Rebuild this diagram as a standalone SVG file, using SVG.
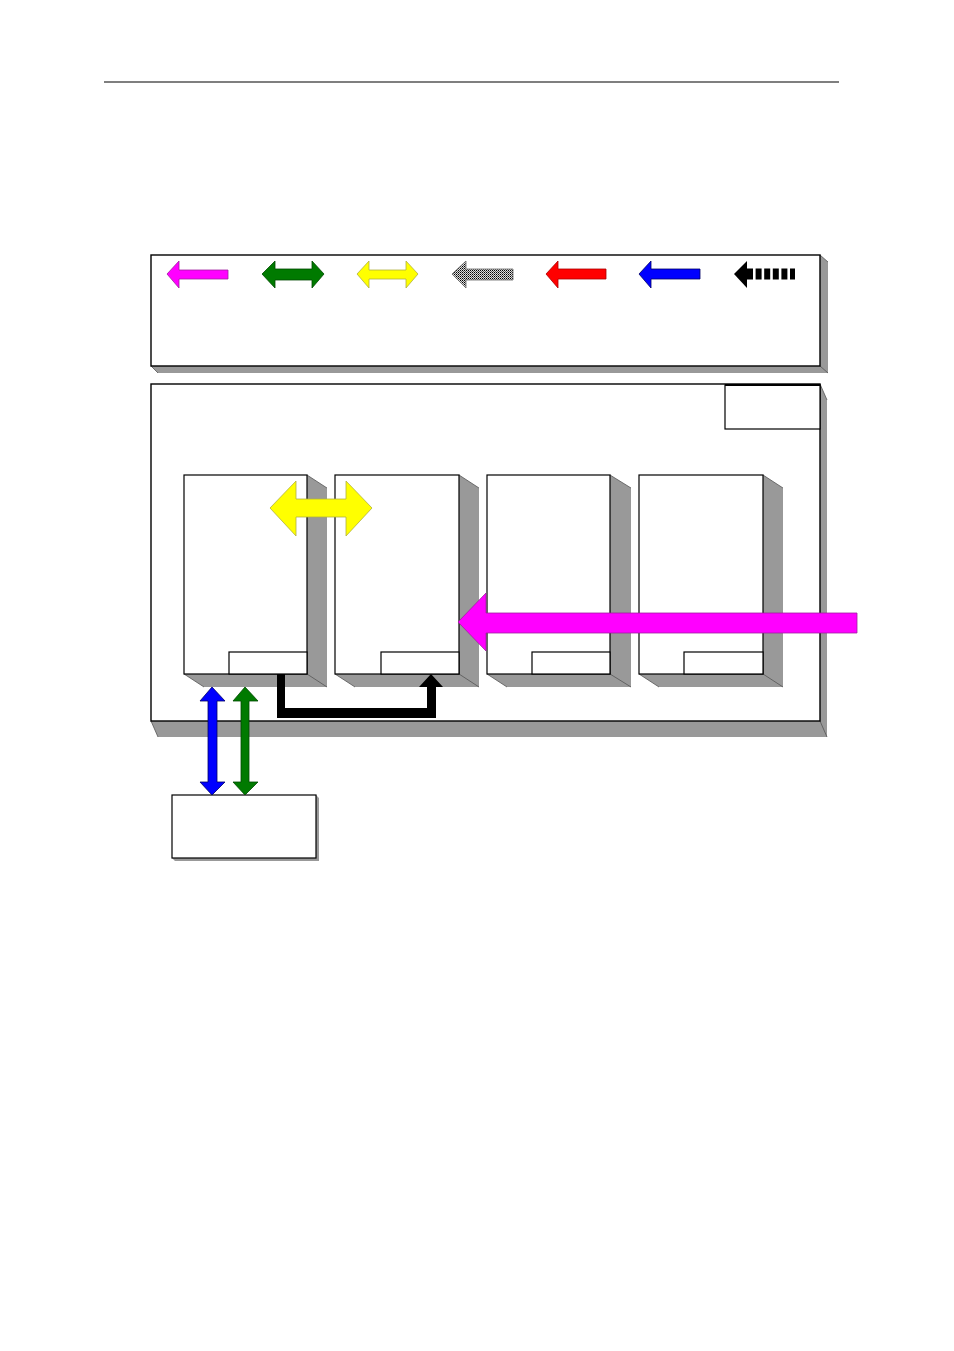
<svg xmlns="http://www.w3.org/2000/svg" width="954" height="1351" viewBox="0 0 954 1351">
<style>
.box{fill:#fff;stroke:#000;stroke-width:1.4}
.thin{fill:#fff;stroke:#000;stroke-width:1.2}
.shade{fill:#999;stroke:none}
.edge{stroke:#555;stroke-width:0.8;fill:none}
.mag{fill:#f0f;stroke:#a020a0;stroke-width:0.8}
.grn{fill:#007a00;stroke:#004a00;stroke-width:0.8}
.yel{fill:#ff0;stroke:#b0b040;stroke-width:0.8}
.red{fill:#f00;stroke:#a00;stroke-width:0.8}
.blu{fill:#00f;stroke:#006;stroke-width:0.8}
.blk{fill:#000;stroke:none}
</style>
<defs>
<pattern id="dots" width="2" height="2" patternUnits="userSpaceOnUse">
<rect width="2" height="2" fill="#ddd"/>
<rect width="1" height="1" fill="#000"/>
<rect x="1" y="1" width="1" height="1" fill="#555"/>
</pattern>
</defs>
<rect width="954" height="1351" fill="#fff"/>
<line x1="104" y1="82" x2="839" y2="82" stroke="#000" stroke-width="1.2"/>

<g id="legend">
<polygon class="shade" points="820,255 828,262 828,373 158,373 151,366 820,366"/>
<line class="edge" x1="151" y1="366" x2="158" y2="373"/>
<line class="edge" x1="820" y1="255" x2="828" y2="262"/>
<line class="edge" x1="820" y1="366" x2="828" y2="373"/>
<rect class="box" x="151" y="255" width="669" height="111"/>
<polygon class="mag" points="167,274 179,261 179,270 228,270 228,279 179,279 179,288"/>
<polygon class="grn" points="262,274 275,261 275,269 312,269 312,261 324,274 312,288 312,280 275,280 275,288"/>
<polygon class="yel" points="357,274 369,261 369,270 406,270 406,261 418,274 406,288 406,279 369,279 369,288"/>
<polygon fill="url(#dots)" stroke="#666" stroke-width="0.8" points="452,274 466,261 466,269 513,269 513,280 466,280 466,288"/>
<polygon class="red" points="546,274 558,261 558,269 606,269 606,279 558,279 558,288"/>
<polygon class="blu" points="639,274 651,261 651,269 700,269 700,279 651,279 651,288"/>
<polygon class="blk" points="734,274 747,261 747,288"/>
<line x1="747" y1="274" x2="795" y2="274" stroke="#000" stroke-width="11" stroke-dasharray="6 2.6"/>
</g>

<g id="main">
<polygon class="shade" points="820,384 827,400 827,737 158,737 151,721 820,721"/>
<line class="edge" x1="151" y1="721" x2="158" y2="737"/>
<line class="edge" x1="820" y1="384" x2="827" y2="400"/>
<line class="edge" x1="820" y1="721" x2="827" y2="737"/>
<rect class="box" x="151" y="384" width="669" height="337"/>
</g>

<g id="corner-box">
<rect class="thin" x="725" y="385" width="95" height="44"/>
<line x1="725" y1="385" x2="820" y2="385" stroke="#000" stroke-width="2"/>
</g>

<g id="node1">
<polygon class="shade" points="307,475 327,488 327,687 204,687 184,674 307,674"/>
<path class="edge" d="M307,475 L327,488 M184,674 L204,687 M307,674 L327,687"/>
<rect class="thin" x="184" y="475" width="123" height="199"/>
<rect class="thin" x="229" y="652" width="78" height="22"/>
</g>
<g id="node2">
<polygon class="shade" points="459,475 479,488 479,687 355,687 335,674 459,674"/>
<path class="edge" d="M459,475 L479,488 M335,674 L355,687 M459,674 L479,687"/>
<rect class="thin" x="335" y="475" width="124" height="199"/>
<rect class="thin" x="381" y="652" width="78" height="22"/>
</g>
<g id="node3">
<polygon class="shade" points="610,475 631,488 631,687 507,687 487,674 610,674"/>
<path class="edge" d="M610,475 L631,488 M487,674 L507,687 M610,674 L631,687"/>
<rect class="thin" x="487" y="475" width="123" height="199"/>
<rect class="thin" x="532" y="652" width="78" height="22"/>
</g>
<g id="node4">
<polygon class="shade" points="763,475 783,488 783,687 659,687 639,674 763,674"/>
<path class="edge" d="M763,475 L783,488 M639,674 L659,687 M763,674 L783,687"/>
<rect class="thin" x="639" y="475" width="124" height="199"/>
<rect class="thin" x="684" y="652" width="79" height="22"/>
</g>

<g id="bottom-box">
<polygon points="316,795 319,798 319,861 175,861 172,858 316,858" fill="#999"/>
<rect class="thin" x="172" y="795" width="144" height="63"/>
</g>

<g id="connectors">
<polygon class="yel" points="270,508 296,481 296,499 346,499 346,481 372,508 346,536 346,517 296,517 296,536"/>
<polygon class="mag" points="458,622 486,593 486,613 857,613 857,633 486,633 486,651"/>
<polygon class="blk" points="277,674 285,674 285,708 427,708 427,687 419,687 431,674 443,687 436,687 436,718 277,718"/>
<polygon class="blu" points="212,687 225,701 217,701 217,782 225,782 212,795 200,782 208,782 208,701 200,701"/>
<polygon class="grn" points="245,687 258,701 249,701 249,782 258,782 245,795 233,782 241,782 241,701 233,701"/>
</g>
</svg>
